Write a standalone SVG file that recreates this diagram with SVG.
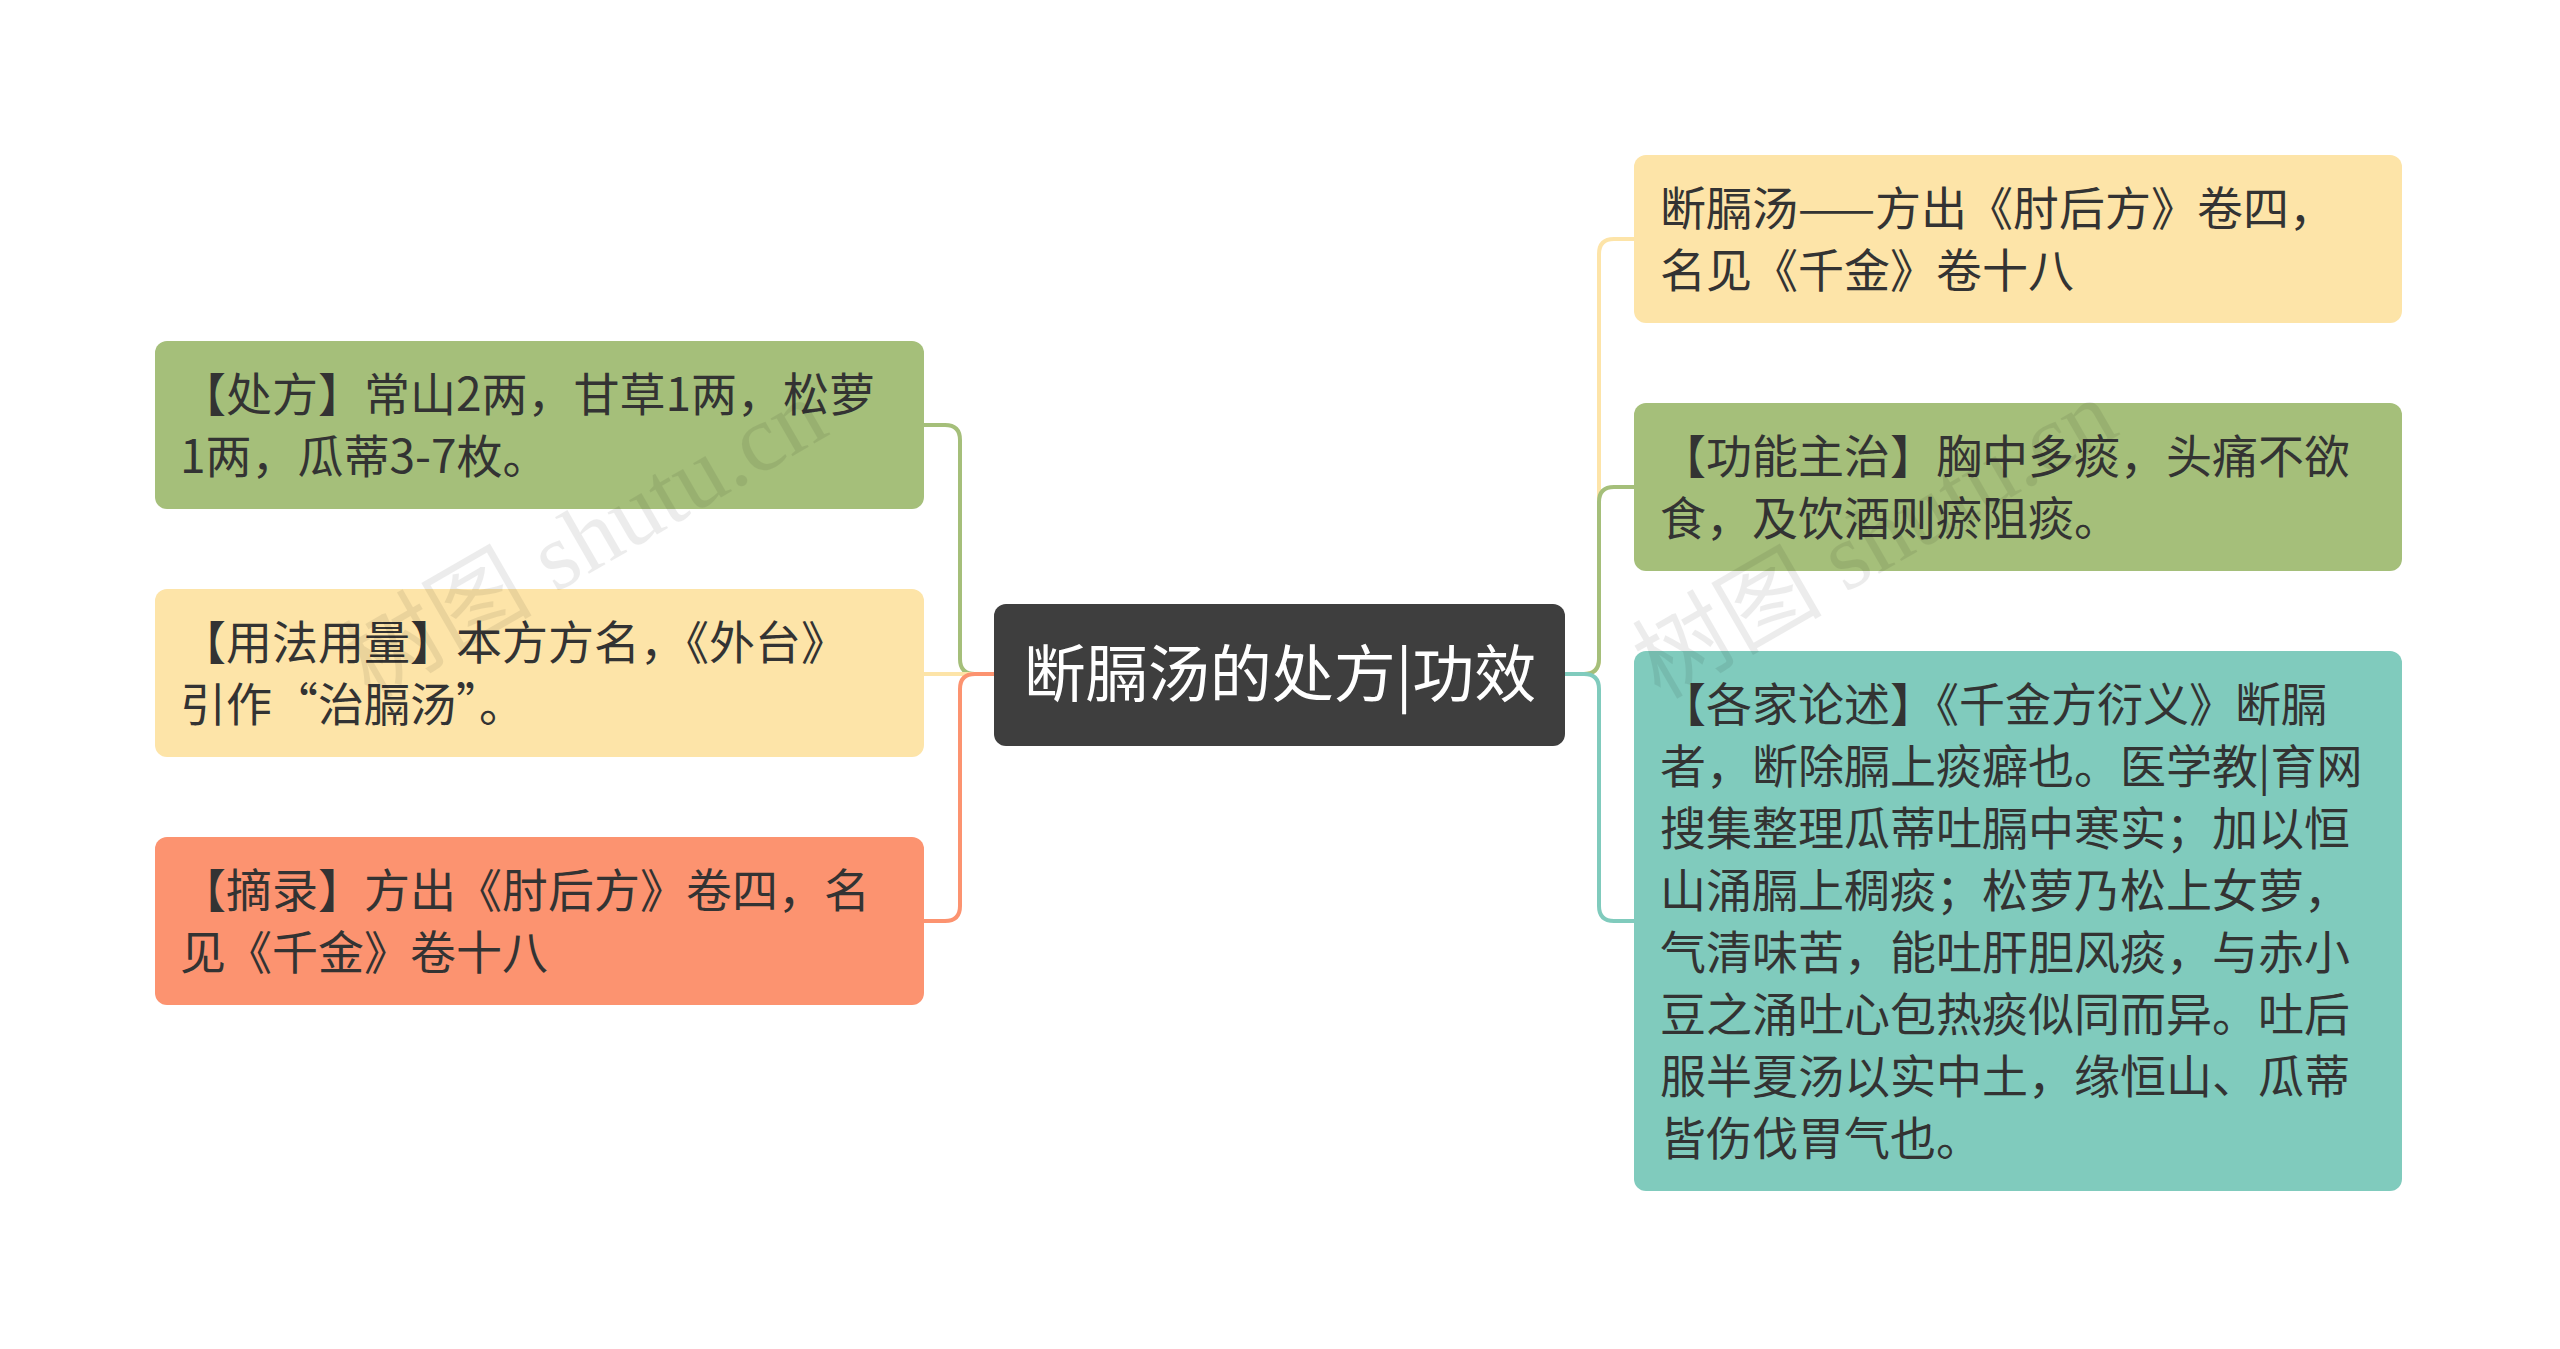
<svg xmlns="http://www.w3.org/2000/svg" width="2560" height="1349" viewBox="0 0 2560 1349">
<style>
text{font-family:"Noto Sans CJK SC","Liberation Sans",sans-serif;font-size:46px;fill:#333}
.c{fill:none;stroke-width:4}
.wm{font-size:95px;fill:#000;opacity:0.07;font-family:"Liberation Serif","Noto Sans CJK SC",serif}
</style>
<rect width="2560" height="1349" fill="#fff"/>
<g id="connectors">
<path class="c" stroke="#a5bf7a" d="M994 674 H975 Q960 674 960 659 V440 Q960 425 945 425 H924"/>
<path class="c" stroke="#fde4a8" d="M994 674 H924"/>
<path class="c" stroke="#fc9370" d="M994 674 H975 Q960 674 960 689 V906 Q960 921 945 921 H924"/>
<path class="c" stroke="#fde4a8" d="M1565 674 H1584 Q1599 674 1599 659 V254 Q1599 239 1614 239 H1634"/>
<path class="c" stroke="#a5bf7a" d="M1565 674 H1584 Q1599 674 1599 659 V502 Q1599 487 1614 487 H1634"/>
<path class="c" stroke="#80cbbd" d="M1565 674 H1584 Q1599 674 1599 689 V906 Q1599 921 1614 921 H1634"/>
</g>
<g id="center"><rect x="994" y="604" width="571" height="142" rx="12" fill="#3e3e3e"/>
<text x="1280" y="697" text-anchor="middle" style="font-size:62px;fill:#fff">断膈汤的处方|功效</text></g>
<g id="l1"><rect x="155" y="341" width="769" height="168" rx="12" fill="#a5bf7a"/>
<text x="180" y="411">【处方】常山2两，甘草1两，松萝</text><text x="180" y="473">1两，瓜蒂3-7枚。</text></g>
<g id="l2"><rect x="155" y="589" width="769" height="168" rx="12" fill="#fde4a8"/>
<text x="180" y="659">【用法用量】本方方名，《外台》</text><text x="180" y="721">引作“治膈汤”。</text></g>
<g id="l3"><rect x="155" y="837" width="769" height="168" rx="12" fill="#fc9370"/>
<text x="180" y="907">【摘录】方出《肘后方》卷四，名</text><text x="180" y="969">见《千金》卷十八</text></g>
<g id="r1"><rect x="1634" y="155" width="768" height="168" rx="12" fill="#fde4a8"/>
<text x="1660" y="225">断膈汤——方出《肘后方》卷四，</text><text x="1660" y="287">名见《千金》卷十八</text></g>
<g id="r2"><rect x="1634" y="403" width="768" height="168" rx="12" fill="#a5bf7a"/>
<text x="1660" y="473">【功能主治】胸中多痰，头痛不欲</text><text x="1660" y="535">食，及饮酒则瘀阻痰。</text></g>
<g id="r3"><rect x="1634" y="651" width="768" height="540" rx="12" fill="#80cbbd"/>
<text x="1660" y="721">【各家论述】《千金方衍义》断膈</text>
<text x="1660" y="783">者，断除膈上痰癖也。医学教|育网</text>
<text x="1660" y="845">搜集整理瓜蒂吐膈中寒实；加以恒</text>
<text x="1660" y="907">山涌膈上稠痰；松萝乃松上女萝，</text>
<text x="1660" y="969">气清味苦，能吐肝胆风痰，与赤小</text>
<text x="1660" y="1031">豆之涌吐心包热痰似同而异。吐后</text>
<text x="1660" y="1093">服半夏汤以实中土，缘恒山、瓜蒂</text>
<text x="1660" y="1155">皆伤伐胃气也。</text></g>
<text class="wm" transform="translate(370,700) rotate(-30)">树图 shutu.cn</text>
<text class="wm" transform="translate(1660,700) rotate(-30)">树图 shutu.cn</text>
</svg>
